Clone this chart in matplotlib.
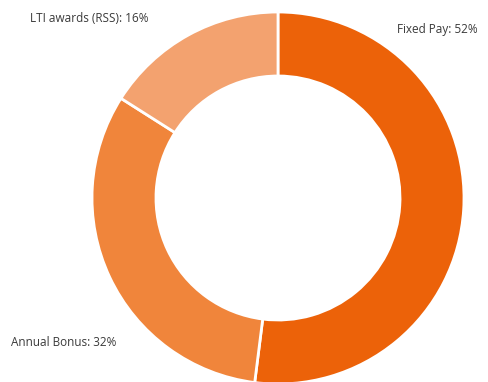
import matplotlib
matplotlib.use("Agg")
import matplotlib.pyplot as plt

# Pay mix split, clockwise from 12 o'clock
labels = ["Fixed Pay", "Annual Bonus", "LTI awards (RSS)"]
shares = [52, 32, 16]
colors = ["#EC6209", "#F0853B", "#F3A26F"]

W, H = 488, 382
fig = plt.figure(figsize=(W / 100, H / 100), dpi=100)

# donut centre / radius in pixels
cx, cy, r = 278, 198, 186
ax = fig.add_axes([(cx - r) / W, (H - cy - r) / H, 2 * r / W, 2 * r / H])
ax.pie(shares, colors=colors, startangle=90, counterclock=False, radius=1,
       wedgeprops=dict(width=0.344, edgecolor="white", linewidth=2))
ax.set_xlim(-1, 1)
ax.set_ylim(-1, 1)
ax.set_aspect("equal")
ax.axis("off")

txt = dict(fontsize=8.5, color="#3a3a3a", family="Open Sans", va="center")
pos = {
    "LTI awards (RSS)": (30, 19, "left"),
    "Fixed Pay": (478, 30, "right"),
    "Annual Bonus": (11, 342, "left"),
}
for lab, val in zip(labels, shares):
    x, y, ha = pos[lab]
    fig.text(x / W, 1 - y / H, f"{lab}: {val}%", ha=ha, **txt)

fig.savefig("out.png", dpi=100)
